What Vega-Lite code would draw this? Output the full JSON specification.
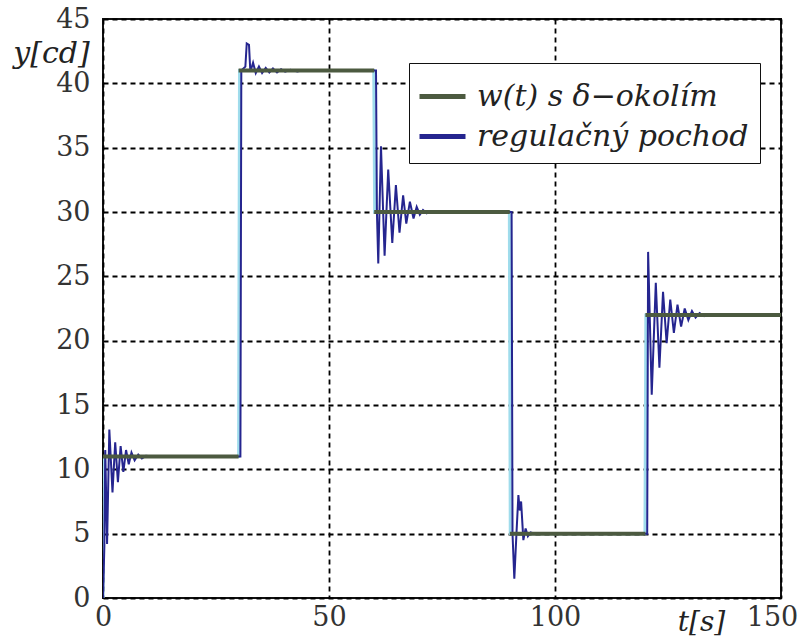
{
  "$schema": "https://vega.github.io/schema/vega-lite/v6.json",
  "width": 678,
  "height": 579,
  "autosize": {"type": "none"},
  "padding": {"left": 103, "top": 19, "right": 23, "bottom": 41},
  "background": "white",
  "config": {
    "view": {"stroke": "#111", "strokeWidth": 2},
    "axis": {
      "domain": false,
      "ticks": false,
      "grid": true,
      "gridColor": "#000",
      "gridOpacity": 1,
      "gridWidth": 1.8,
      "gridDash": [5, 4],
      "labelFont": "DejaVu Serif",
      "labelFontSize": 27,
      "labelColor": "#333",
      "titleFont": "DejaVu Serif",
      "titleFontStyle": "italic",
      "titleFontWeight": "normal",
      "titleFontSize": 28,
      "titleColor": "#222"
    }
  },
  "datasets": {
    "cyan": [
      {"t": 0, "y": 0}, {"t": 0.2, "y": 11}, {"t": 30.0, "y": 11}, {"t": 30.2, "y": 41},
      {"t": 59.9, "y": 41}, {"t": 60.1, "y": 30}, {"t": 89.9, "y": 30}, {"t": 90.1, "y": 5},
      {"t": 119.9, "y": 5}, {"t": 120.1, "y": 22}, {"t": 150, "y": 22}
    ],
    "w": [
      {"seg": 1, "t": 0, "y": 11}, {"seg": 1, "t": 30, "y": 11},
      {"seg": 2, "t": 30, "y": 41}, {"seg": 2, "t": 60, "y": 41},
      {"seg": 3, "t": 60, "y": 30}, {"seg": 3, "t": 90, "y": 30},
      {"seg": 4, "t": 90, "y": 5}, {"seg": 4, "t": 120, "y": 5},
      {"seg": 5, "t": 120, "y": 22}, {"seg": 5, "t": 150, "y": 22}
    ],
    "resp": [
      {"t": 0, "y": 0}, {"t": 0.3, "y": 4}, {"t": 0.5, "y": 11.5}, {"t": 0.9, "y": 4.2},
      {"t": 1.4, "y": 13.1}, {"t": 2.1, "y": 8.2}, {"t": 2.7, "y": 12.1}, {"t": 3.3, "y": 9.0},
      {"t": 3.9, "y": 11.8}, {"t": 4.5, "y": 9.8}, {"t": 5.1, "y": 11.5}, {"t": 5.7, "y": 10.4},
      {"t": 6.3, "y": 11.3}, {"t": 7.0, "y": 10.7}, {"t": 7.8, "y": 11.15}, {"t": 8.6, "y": 10.85},
      {"t": 9.5, "y": 11.05}, {"t": 11, "y": 11}, {"t": 30.2, "y": 11},
      {"t": 30.4, "y": 11}, {"t": 30.6, "y": 41}, {"t": 31.5, "y": 41.3}, {"t": 31.8, "y": 43.1},
      {"t": 32.3, "y": 43.0}, {"t": 32.6, "y": 40.9}, {"t": 33.2, "y": 41.6}, {"t": 33.8, "y": 40.8},
      {"t": 34.5, "y": 41.3}, {"t": 35.2, "y": 40.8}, {"t": 36.0, "y": 41.2}, {"t": 36.8, "y": 40.85},
      {"t": 37.6, "y": 41.15}, {"t": 38.5, "y": 40.85}, {"t": 39.4, "y": 41.1}, {"t": 40.3, "y": 40.9},
      {"t": 41.5, "y": 41.05}, {"t": 43, "y": 40.92}, {"t": 44.5, "y": 41.03}, {"t": 46, "y": 40.95},
      {"t": 48, "y": 41}, {"t": 60.2, "y": 41},
      {"t": 60.4, "y": 41}, {"t": 60.6, "y": 30}, {"t": 60.9, "y": 26.0}, {"t": 61.5, "y": 35.1},
      {"t": 62.3, "y": 26.6}, {"t": 63.1, "y": 33.3}, {"t": 64.0, "y": 27.6}, {"t": 64.8, "y": 32.1},
      {"t": 65.6, "y": 28.4}, {"t": 66.4, "y": 31.3}, {"t": 67.1, "y": 29.1}, {"t": 67.9, "y": 30.8},
      {"t": 68.7, "y": 29.5}, {"t": 69.4, "y": 30.4}, {"t": 70.1, "y": 29.8}, {"t": 70.8, "y": 30.15},
      {"t": 71.6, "y": 29.9}, {"t": 72.5, "y": 30.05}, {"t": 74, "y": 30}, {"t": 90.2, "y": 30},
      {"t": 90.4, "y": 30}, {"t": 90.6, "y": 5}, {"t": 91.0, "y": 1.5}, {"t": 91.5, "y": 5.2},
      {"t": 91.9, "y": 8.0}, {"t": 92.2, "y": 6.8}, {"t": 92.5, "y": 7.5}, {"t": 93.0, "y": 4.5},
      {"t": 93.5, "y": 5.4}, {"t": 94.0, "y": 4.8}, {"t": 94.6, "y": 5.1}, {"t": 95.5, "y": 5},
      {"t": 120.2, "y": 5},
      {"t": 120.4, "y": 5}, {"t": 120.6, "y": 26.9}, {"t": 121.4, "y": 15.8}, {"t": 122.3, "y": 24.5},
      {"t": 123.1, "y": 17.9}, {"t": 123.9, "y": 23.8}, {"t": 124.7, "y": 19.8}, {"t": 125.5, "y": 23.2},
      {"t": 126.3, "y": 20.6}, {"t": 127.1, "y": 22.8}, {"t": 127.9, "y": 21.1}, {"t": 128.7, "y": 22.5},
      {"t": 129.5, "y": 21.6}, {"t": 130.3, "y": 22.3}, {"t": 131.1, "y": 21.8}, {"t": 132.0, "y": 22.15},
      {"t": 133, "y": 21.9}, {"t": 134, "y": 22.05}, {"t": 135.5, "y": 21.95}, {"t": 137, "y": 22},
      {"t": 150, "y": 22}
    ]
  },
  "encoding": {
    "x": {
      "field": "t", "type": "quantitative",
      "scale": {"domain": [0, 150], "nice": false, "zero": false},
      "axis": {
        "values": [0, 50, 100, 150],
        "labelPadding": 6,
        "labelFlush": false,
        "labelOffset": {"condition": {"test": "datum.value === 150", "value": -9}, "value": 0},
        "title": "t[s]",
        "titleX": 598,
        "titleY": 24,
        "titleBaseline": "middle",
        "titleAlign": "center"
      }
    },
    "y": {
      "field": "y", "type": "quantitative",
      "scale": {"domain": [0, 45], "nice": false},
      "axis": {
        "values": [0, 5, 10, 15, 20, 25, 30, 35, 40, 45],
        "labelPadding": 13,
        "labelFlush": false,
        "title": "y[cd]",
        "titleAngle": 0,
        "titleFontSize": 30,
        "titleX": -52,
        "titleY": 34,
        "titleAlign": "center",
        "titleBaseline": "middle"
      }
    }
  },
  "layer": [
    {
      "data": {"name": "cyan"},
      "mark": {"type": "line", "color": "#9fdcec", "strokeWidth": 3, "clip": true},
      "encoding": {}
    },
    {
      "data": {"name": "resp"},
      "mark": {"type": "line", "strokeWidth": 2, "clip": true},
      "encoding": {
        "color": {
          "datum": "regulačný pochod",
          "scale": {"domain": ["w(t) s δ−okolím", "regulačný pochod"], "range": ["#4c5a40", "#25258f"]},
          "legend": {
            "title": null,
            "orient": "none",
            "legendX": 306,
            "legendY": 44,
            "fillColor": "white",
            "strokeColor": "#111",
            "padding": 11,
            "symbolType": "M-1.15,0H1.15",
            "symbolSize": 1600,
            "symbolStrokeWidth": 5,
            "labelFont": "DejaVu Serif",
            "labelFontStyle": "italic",
            "labelFontSize": 30,
            "labelColor": "#222",
            "labelLimit": 400,
            "labelOffset": 12,
            "rowPadding": 2
          }
        }
      }
    },
    {
      "data": {"name": "w"},
      "mark": {"type": "line", "strokeWidth": 4, "clip": true},
      "encoding": {
        "color": {"datum": "w(t) s δ−okolím"},
        "detail": {"field": "seg", "type": "nominal"}
      }
    }
  ]
}
